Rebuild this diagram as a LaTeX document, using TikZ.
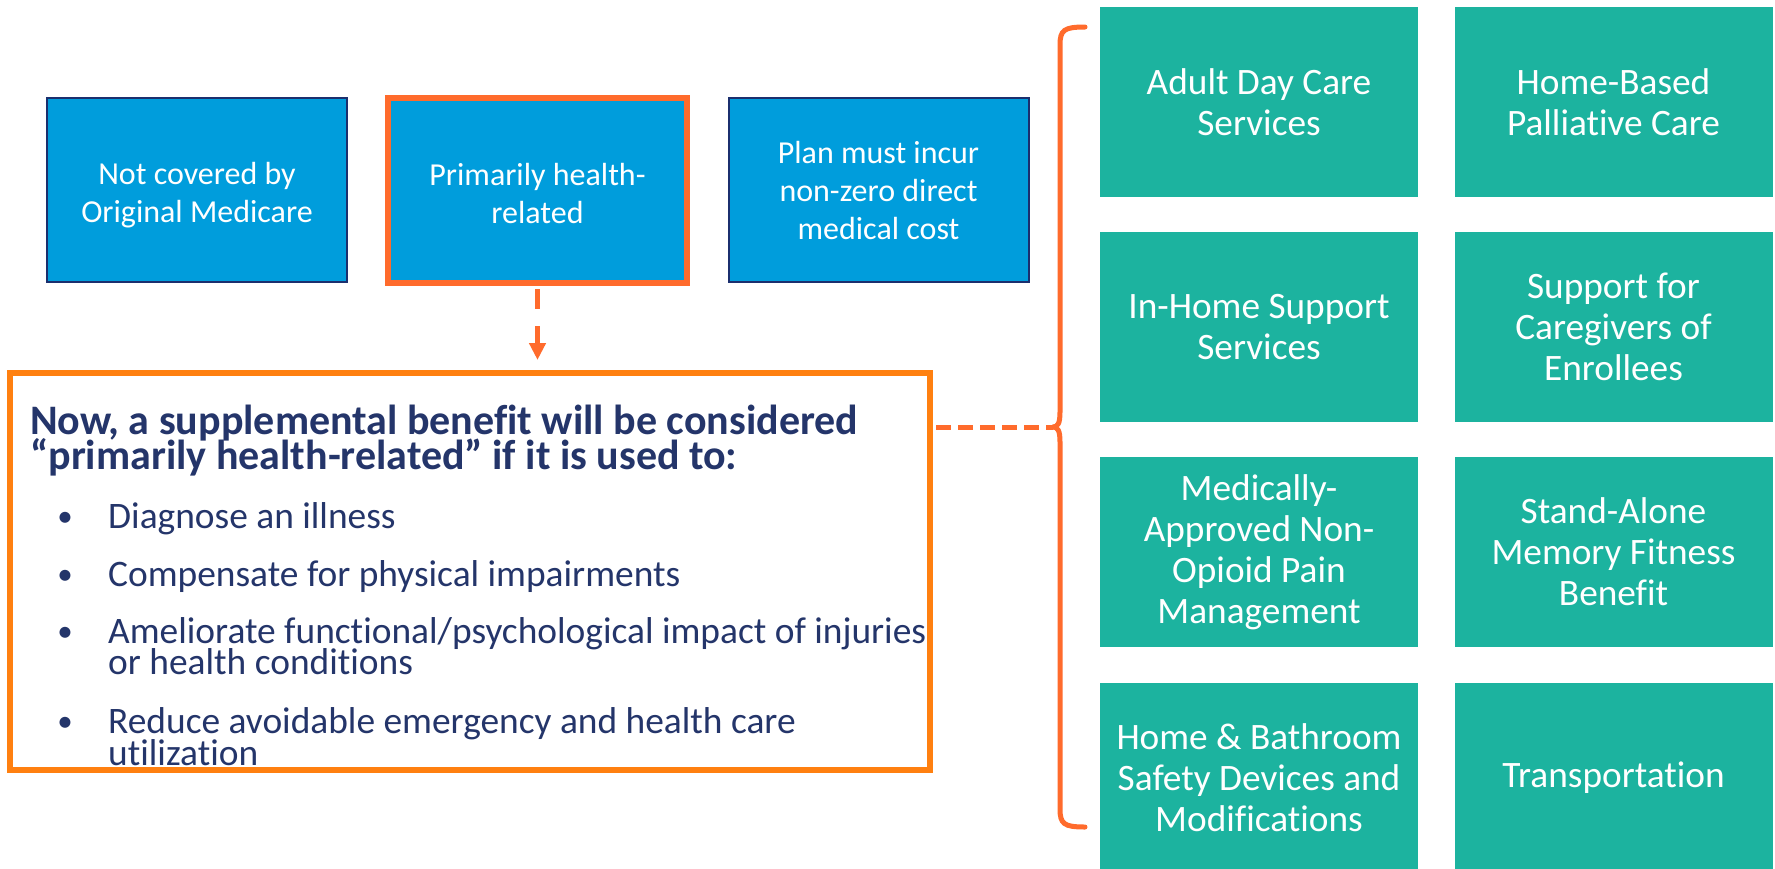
\documentclass[tikz,border=0pt]{standalone}
\usepackage{fontspec}
\setmainfont{Carlito}[Ligatures={NoCommon}]
\usetikzlibrary{arrows.meta}

\definecolor{skyfill}{HTML}{009DDC}
\definecolor{navyline}{HTML}{1B2F6E}
\definecolor{orangeA}{HTML}{FF6B2C}
\definecolor{orangeB}{HTML}{FF8010}
\definecolor{tealfill}{HTML}{1CB39F}
\definecolor{navytext}{HTML}{24356A}

\tikzset{
  topbox/.style={draw=navyline, line width=2pt, fill=skyfill,
    minimum width=300pt, minimum height=184pt, inner sep=0pt},
  keybox/.style={topbox, draw=orangeA, line width=6pt,
    minimum width=299pt, minimum height=185pt},
  boxtext/.style={inner sep=0pt, text=white, align=center,
    font=\fontsize{32}{38}\selectfont},
  bigframe/.style={draw=orangeB, line width=6pt, fill=white,
    minimum width=920pt, minimum height=397pt, inner sep=0pt},
  benefit/.style={fill=tealfill, minimum width=318pt, minimum height=190pt,
    inner sep=0pt, text=white, align=center,
    font=\fontsize{37.3}{41}\selectfont},
  headline/.style={anchor=base west, inner sep=0pt, text=navytext,
    font=\fontsize{42}{35}\bfseries\selectfont},
  itemline/.style={anchor=base west, inner sep=0pt, text=navytext,
    font=\fontsize{37.4}{31}\selectfont},
  bulletdot/.style={anchor=base, inner sep=0pt, text=navytext,
    font=\fontsize{31}{31}\selectfont},
  link/.style={draw=orangeA, line width=5pt},
}

\begin{document}
\begin{tikzpicture}[x=1pt,y=-1pt]
  \useasboundingbox (0,0) rectangle (1775,868);
  \clip (0,0) rectangle (1775,868);
  \fill[white] (0,0) rectangle (1775,868);

  % criteria boxes
  \node[topbox] (crit1) at (197,190) {};
  \node[keybox] (key) at (537.5,190.5) {};
  \node[topbox] (crit3) at (878.5,190) {};
  \node[boxtext] (crit1t) at (197,195) {Not covered by\\Original Medicare};
  \node[boxtext] (keyt) at (537.5,194) {Primarily health-\\related};
  \node[boxtext] (crit3t) at (878.5,191) {Plan must incur\\non-zero direct\\medical cost};

  % definition frame
  \node[bigframe] (big) at (470,571.5) {};

  \node[headline] (h1) at (30,434) {Now, a supplemental benefit will be considered};
  \node[headline] (h2) at (30,469) {“primarily health-related” if it is used to:};

  \node[bulletdot] (d1) at (65,526) {•};
  \node[itemline] (i1) at (108,528) {Diagnose an illness};
  \node[bulletdot] (d2) at (65,584) {•};
  \node[itemline] (i2) at (108,586) {Compensate for physical impairments};
  \node[bulletdot] (d3) at (65,641) {•};
  \node[itemline] (i3a) at (108,643) {Ameliorate functional/psychological impact of injuries};
  \node[itemline] (i3b) at (108,674) {or health conditions};
  \node[bulletdot] (d4) at (65,731) {•};
  \node[itemline] (i4a) at (108,733) {Reduce avoidable emergency and health care};
  \node[itemline] (i4b) at (108,765) {utilization};

  % benefit grid
  \node[benefit] (b11) at (1259,102) {Adult Day Care\\Services};
  \node[benefit] (b12) at (1613.5,102) {Home-Based\\Palliative Care};
  \node[benefit] (b21) at (1259,327) {In-Home Support\\Services};
  \node[benefit] (b22) at (1613.5,327) {Support for\\Caregivers of\\Enrollees};
  \node[benefit] (b31) at (1259,552) {Medically-\\Approved Non-\\Opioid Pain\\Management};
  \node[benefit] (b32) at (1613.5,552) {Stand-Alone\\Memory Fitness\\Benefit};
  \node[benefit] (b41) at (1259,778) {Home \& Bathroom\\Safety Devices and\\Modifications};
  \node[benefit] (b42) at (1613.5,778) {Transportation};

  % bracket grouping the benefits
  \coordinate (tip) at (1053,427);
  \draw[link, line cap=round, line join=round]
    (1085,27) .. controls (1064,27) and (1060,30) .. (1060,45)
    -- (1060,412)
    .. controls (1060,423) and (1058,427) .. (tip)
    .. controls (1058,427) and (1060,431) .. (1060,442)
    -- (1060,809)
    .. controls (1060,824) and (1064,827) .. (1085,827);

  % connectors
  \draw[link, dash pattern=on 20pt off 17pt,
        -{Triangle[width=16pt,length=17pt]},
        shorten <=3pt, shorten >=10pt]
    (key.south) -- (key.south |- big.north);
  \draw[link, dash pattern=on 15pt off 7pt, shorten <=3pt]
    (big.east |- tip) -- (tip);
\end{tikzpicture}
\end{document}
